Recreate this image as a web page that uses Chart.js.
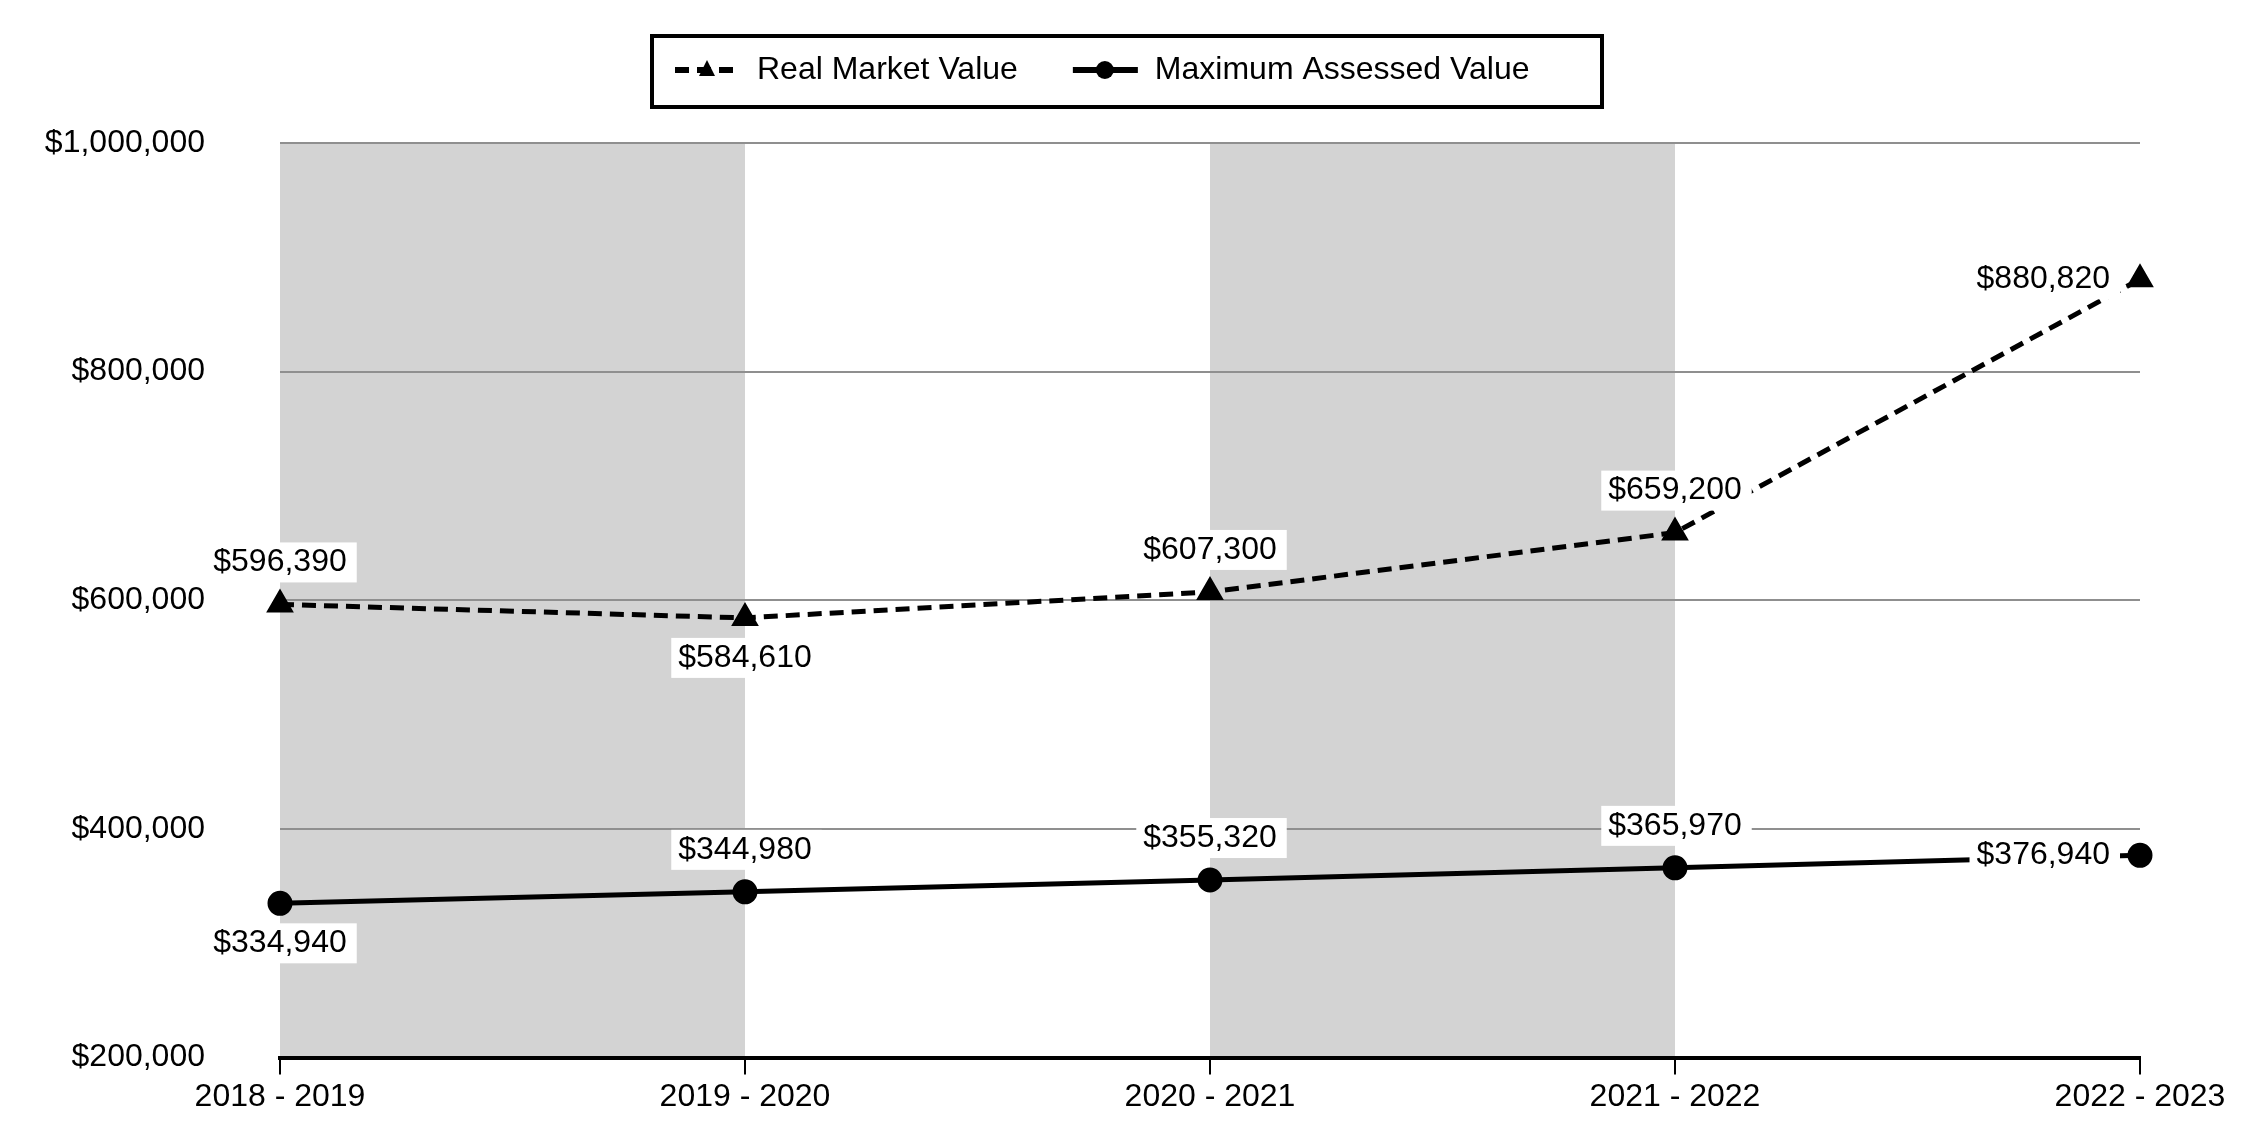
<!DOCTYPE html>
<html>
<head>
<meta charset="utf-8">
<script src="https://cdn.jsdelivr.net/npm/chart.js@4"></script>
<style>
  html, body { margin: 0; padding: 0; background: #fff; }
  #wrap { width: 2250px; height: 1140px; }
</style>
</head>
<body>
<div id="wrap"><canvas id="valueChart"></canvas></div>
<script>
const years = ['2018 - 2019', '2019 - 2020', '2020 - 2021', '2021 - 2022', '2022 - 2023'];
const realMarketValue = [596390, 584610, 607300, 659200, 880820];
const maxAssessedValue = [334940, 344980, 355320, 365970, 376940];
const yTicks = [200000, 400000, 600000, 800000, 1000000];
const shadedBands = [['2018 - 2019', '2019 - 2020'], ['2020 - 2021', '2021 - 2022']];
const rmvLabelPos = ['above', 'below', 'above', 'above', 'left'];
const mavLabelPos = ['below', 'above', 'above', 'above', 'left'];

const FONT = '"Liberation Sans", Arial, sans-serif';
Chart.defaults.font.family = FONT;
Chart.defaults.font.size = 32;
Chart.defaults.color = '#000';

function money(v) {
    return '$' + v.toLocaleString('en-US');
}

// grey bands behind every other year
const shadePlugin = {
    id: 'shade',
    beforeDraw(chart) {
        const { ctx, chartArea, scales: { x } } = chart;
        ctx.save();
        ctx.fillStyle = '#d3d3d3';
        shadedBands.forEach(function (band) {
            const x0 = x.getPixelForValue(years.indexOf(band[0]));
            const x1 = x.getPixelForValue(years.indexOf(band[1]));
            ctx.fillRect(x0, chartArea.top, x1 - x0, chartArea.bottom - chartArea.top);
        });
        ctx.restore();
    }
};

// value labels on white boxes
const labelPlugin = {
    id: 'valueLabels',
    afterDatasetsDraw(chart) {
        const ctx = chart.ctx;
        ctx.save();
        ctx.font = '32px ' + FONT;
        ctx.textAlign = 'center';
        ctx.textBaseline = 'middle';
        chart.data.datasets.forEach(function (ds, di) {
            const meta = chart.getDatasetMeta(di);
            meta.data.forEach(function (pt, i) {
                const text = money(ds.data[i]);
                const w = ctx.measureText(text).width;
                let cx = pt.x, cy = pt.y;
                const pos = ds.labelPos[i];
                if (pos === 'above') cy = pt.y - 42;
                else if (pos === 'below') cy = pt.y + 40;
                else { cx = pt.x - 30 - w / 2; }
                ctx.fillStyle = '#fff';
                ctx.fillRect(cx - w / 2 - 7, cy - 20, w + 17, 40);
                ctx.fillStyle = '#000';
                ctx.fillText(text, cx, cy);
            });
        });
        ctx.restore();
    }
};

// boxed legend with line samples
const legendPlugin = {
    id: 'boxLegend',
    afterDraw(chart) {
        const ctx = chart.ctx;
        const box = { x: 652, y: 36, w: 950, h: 71 };
        const cy = 70;
        ctx.save();
        ctx.lineWidth = 4;
        ctx.strokeStyle = '#000';
        ctx.strokeRect(box.x, box.y, box.w, box.h);
        ctx.font = '32px ' + FONT;
        ctx.textBaseline = 'middle';
        ctx.textAlign = 'left';
        let sx = box.x + 23;
        chart.data.datasets.forEach(function (ds) {
            ctx.beginPath();
            ctx.setLineDash(ds.borderDash || []);
            ctx.lineWidth = ds.borderWidth + 1;
            ctx.moveTo(sx, cy);
            ctx.lineTo(sx + 65, cy);
            ctx.stroke();
            ctx.setLineDash([]);
            ctx.fillStyle = '#000';
            const mx = sx + 32;
            ctx.beginPath();
            if (ds.pointStyle === 'triangle') {
                ctx.moveTo(mx, cy - 10);
                ctx.lineTo(mx + 8, cy + 6);
                ctx.lineTo(mx - 8, cy + 6);
                ctx.closePath();
            } else {
                ctx.arc(mx, cy, 9, 0, Math.PI * 2);
            }
            ctx.fill();
            ctx.fillText(ds.label, sx + 82, cy);
            sx += 82 + ctx.measureText(ds.label).width + 55;
        });
        ctx.restore();
    }
};

const ctx = document.getElementById('valueChart').getContext('2d');
const valueChart = new Chart(ctx, {
    type: 'line',
    data: {
        labels: years,
        datasets: [{
            label: 'Real Market Value',
            data: realMarketValue,
            labelPos: rmvLabelPos,
            borderColor: '#000',
            backgroundColor: '#000',
            borderWidth: 5,
            borderDash: [14, 8],
            pointStyle: 'triangle',
            pointRadius: 11,
            pointBackgroundColor: '#000',
            pointBorderColor: '#000',
            fill: false,
            tension: 0
        }, {
            label: 'Maximum Assessed Value',
            data: maxAssessedValue,
            labelPos: mavLabelPos,
            borderColor: '#000',
            backgroundColor: '#000',
            borderWidth: 5,
            pointStyle: 'circle',
            pointRadius: 10,
            pointBackgroundColor: '#000',
            pointBorderColor: '#000',
            fill: false,
            tension: 0
        }]
    },
    options: {
        responsive: true,
        maintainAspectRatio: false,
        animation: false,
        devicePixelRatio: 1,
        layout: {
            padding: { top: 143, left: 0, right: 110, bottom: 21 }
        },
        scales: {
            x: {
                grid: {
                    drawOnChartArea: false,
                    drawTicks: true,
                    tickLength: 17,
                    color: '#000',
                    lineWidth: 2
                },
                border: { color: '#000', width: 4 },
                ticks: { padding: 3, maxRotation: 0, autoSkip: false }
            },
            y: {
                min: yTicks[0],
                max: yTicks[yTicks.length - 1],
                afterBuildTicks: function (scale) {
                    scale.ticks = yTicks.map(function (v) { return { value: v }; });
                },
                afterFit: function (scale) {
                    scale.width = 280;
                },
                grid: {
                    drawTicks: true,
                    tickLength: 72,
                    tickColor: 'rgba(0,0,0,0)',
                    lineWidth: 2,
                    color: function (c) {
                        return c.tick && c.tick.value === yTicks[0] ? 'rgba(0,0,0,0)' : '#8f8f8f';
                    }
                },
                border: { display: false },
                ticks: {
                    padding: 3,
                    callback: function (v) { return money(v); }
                }
            }
        },
        plugins: {
            legend: { display: false },
            tooltip: { enabled: false }
        }
    },
    plugins: [shadePlugin, labelPlugin, legendPlugin]
});
</script>
</body>
</html>
